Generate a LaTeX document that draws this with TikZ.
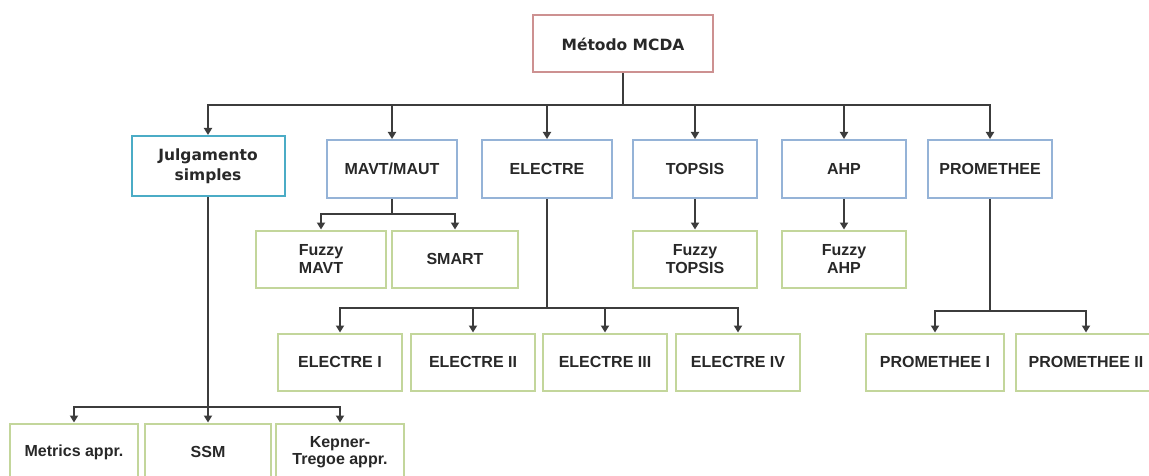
\documentclass[tikz,border=0pt]{standalone}
\usepackage{fontspec}
\setmainfont{Liberation Sans}
\newfontfamily\widebold{DejaVu Sans}
\usetikzlibrary{arrows.meta}
\definecolor{rootline}{RGB}{205,145,145}
\definecolor{cyanline}{RGB}{75,172,198}
\definecolor{blueline}{RGB}{149,179,215}
\definecolor{greenline}{RGB}{195,214,155}
\definecolor{txt}{RGB}{40,40,40}
\definecolor{wire}{RGB}{60,60,60}
\tikzset{
  box/.style={draw, line width=2pt, fill=white, inner sep=0pt, align=center,
    text=txt, font=\fontsize{16}{17.5}\selectfont\bfseries},
  rootbox/.style={box, draw=rootline, minimum width=180pt, minimum height=57pt,
    font=\widebold\fontsize{15.5}{20}\selectfont\bfseries},
  judgebox/.style={box, draw=cyanline, minimum width=153pt, minimum height=60pt,
    font=\widebold\fontsize{15.5}{20}\selectfont\bfseries},
  methodbox/.style={box, draw=blueline, minimum height=58pt},
  variantbox/.style={box, draw=greenline, minimum height=57pt},
  link/.style={draw=wire, line width=1.8pt, -{Triangle[width=8pt,length=7pt]}},
  plain/.style={draw=wire, line width=1.8pt}
}
\begin{document}
\begin{tikzpicture}[x=1pt,y=-1pt]
\clip (0,0) rectangle (1149,476);
\fill[white] (0,0) rectangle (1149,476);

% root
\node[rootbox] (mcda) at (623,44) {Método MCDA};

% first level: method families
\node[judgebox] (jul) at (208,166) {Julgamento\\simples};
\node[methodbox, minimum width=130pt] (mavt) at (392,169) {MAVT/MAUT};
\node[methodbox, minimum width=130pt] (electre) at (547,169) {ELECTRE};
\node[methodbox, minimum width=124pt] (topsis) at (695,169) {TOPSIS};
\node[methodbox, minimum width=124pt] (ahp) at (844,169) {AHP};
\node[methodbox, minimum width=124pt] (prom) at (990,169) {PROMETHEE};

% second level
\node[variantbox, minimum width=130pt] (fmavt) at (321,259) {Fuzzy\\MAVT};
\node[variantbox, minimum width=126pt] (smart) at (455,259) {SMART};
\node[variantbox, minimum width=124pt] (ftopsis) at (695,259) {Fuzzy\\TOPSIS};
\node[variantbox, minimum width=124pt] (fahp) at (844,259) {Fuzzy\\AHP};

% ELECTRE family
\node[variantbox, minimum width=124pt] (e1) at (340,362) {ELECTRE I};
\node[variantbox, minimum width=124pt] (e2) at (473,362) {ELECTRE II};
\node[variantbox, minimum width=124pt] (e3) at (605,362) {ELECTRE III};
\node[variantbox, minimum width=124pt] (e4) at (738,362) {ELECTRE IV};

% PROMETHEE family
\node[variantbox, minimum width=138pt] (p1) at (935,362) {PROMETHEE I};
\node[variantbox, minimum width=140pt] (p2) at (1086,362) {PROMETHEE II};

% simple judgement family
\node[variantbox, minimum width=128pt] (metrics) at (74,452) {Metrics appr.};
\node[variantbox, minimum width=126pt] (ssm) at (208,452) {SSM};
\node[variantbox, minimum width=128pt] (kepner) at (340,452) {Kepner-\\Tregoe appr.};

% bus points
\coordinate (busroot) at (623,105);
\coordinate (busmavt) at (392,214);
\coordinate (buselec) at (547,308);
\coordinate (busprom) at (990,311);
\coordinate (busjul) at (208,407);

% root to families
\draw[plain] (mcda.south) -- (busroot);
\foreach \n in {jul,mavt,electre,topsis,ahp,prom}
  \draw[link] (busroot) -| (\n.north);

% MAVT variants
\draw[plain] (mavt.south) -- (busmavt);
\draw[link] (busmavt) -| (fmavt.north);
\draw[link] (busmavt) -| (smart.north);

% single fuzzy variants
\draw[link] (topsis.south) -- (ftopsis.north);
\draw[link] (ahp.south) -- (fahp.north);

% ELECTRE variants
\draw[plain] (electre.south) -- (buselec);
\foreach \n in {e1,e2,e3,e4}
  \draw[link] (buselec) -| (\n.north);

% PROMETHEE variants
\draw[plain] (prom.south) -- (busprom);
\draw[link] (busprom) -| (p1.north);
\draw[link] (busprom) -| (p2.north);

% simple judgement variants
\draw[plain] (jul.south) -- (busjul);
\foreach \n in {metrics,ssm,kepner}
  \draw[link] (busjul) -| (\n.north);
\end{tikzpicture}
\end{document}
